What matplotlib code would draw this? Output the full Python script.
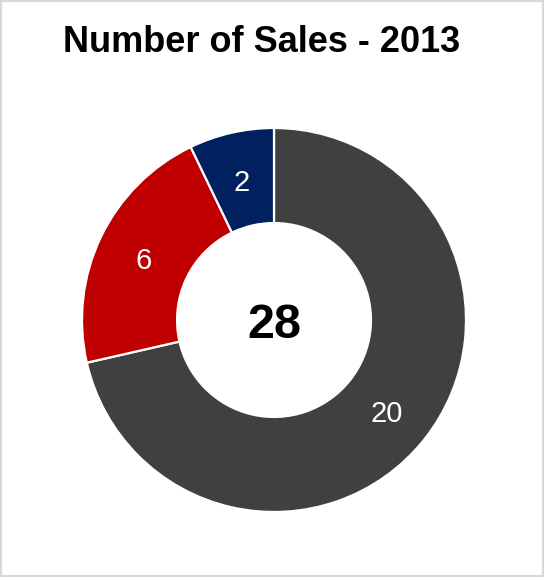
import numpy as np
import matplotlib
matplotlib.use('Agg')
import matplotlib.pyplot as plt
from matplotlib.patches import Rectangle

# --- data ---
categories = ['A', 'B', 'C']
sales = [20, 6, 2]
colors = ['#404040', '#C00000', '#002060']
title = 'Number of Sales - 2013'

plt.rcParams['font.family'] = ['Liberation Sans', 'DejaVu Sans']

fig = plt.figure(figsize=(5.44, 5.77), dpi=100)
fig.patch.set_facecolor('white')

# donut occupies a square region in the middle
ax = fig.add_axes([82 / 544, 65 / 577, 384 / 544, 384 / 577])
ring = 0.495
wedges, texts = ax.pie(
    sales, colors=colors, startangle=90, counterclock=False, radius=1.0,
    wedgeprops=dict(width=ring, edgecolor='white', linewidth=1.6),
)
for w, v in zip(wedges, sales):
    ang = np.deg2rad((w.theta1 + w.theta2) / 2)
    r = 1 - ring / 2
    ax.text(r * np.cos(ang), r * np.sin(ang) - 0.02, str(v), color='white',
            fontsize=21, ha='center', va='center')

ax.text(0, -0.03, str(sum(sales)), fontsize=35, fontweight='bold',
        ha='center', va='center', color='black')
ax.set_xlim(-1, 1)
ax.set_ylim(-1, 1)
ax.set_aspect('equal')
ax.axis('off')

fig.text(262 / 544, 1 - 43 / 577, title, fontsize=26, fontweight='bold',
         ha='center', va='center', color='black')

# light grey frame around the chart area
fig.patches.append(Rectangle((0, 0), 1, 1, transform=fig.transFigure,
                             fill=False, edgecolor='#d9d9d9', linewidth=3))

fig.savefig('out.png', dpi=100)
